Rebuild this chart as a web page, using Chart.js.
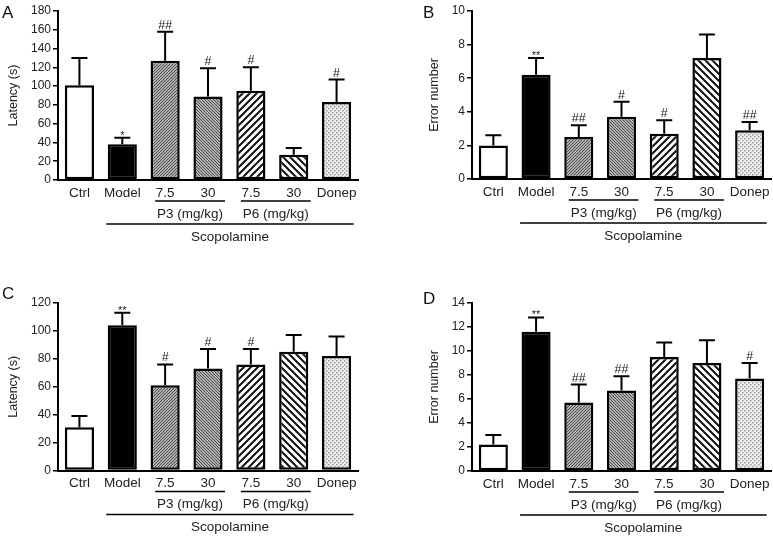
<!DOCTYPE html>
<html><head><meta charset="utf-8">
<script src="https://cdn.jsdelivr.net/npm/chart.js@4"></script>
<style>
body{margin:0;background:#fff;}
#wrap{position:relative;width:773px;height:536px;overflow:hidden;font-family:"Liberation Sans",Arial,sans-serif;}
canvas{position:absolute;}
.lbl{position:absolute;font-size:17px;line-height:18px;color:#111;}
</style></head><body>
<div id="wrap">
<canvas id="cA" width="386" height="268" style="left:0;top:0"></canvas>
<canvas id="cB" width="387" height="268" style="left:386px;top:0"></canvas>
<canvas id="cC" width="386" height="268" style="left:0;top:268px"></canvas>
<canvas id="cD" width="387" height="268" style="left:386px;top:268px"></canvas>
<div class="lbl" style="left:2px;top:4px">A</div>
<div class="lbl" style="left:423px;top:4px">B</div>
<div class="lbl" style="left:2px;top:285px">C</div>
<div class="lbl" style="left:423px;top:290px">D</div>
</div>
<script>
// ---------- data ----------
const categories = ['Ctrl', 'Model', '7.5', '30', '7.5', '30', 'Donep'];
const groupLabels = ['P3 (mg/kg)', 'P6 (mg/kg)'];
const outerLabel = 'Scopolamine';

const latencyA = [101, 38, 127, 89, 95, 27, 83];
const latencyASem = [29, 7, 31, 30, 25, 7, 24];
const marksA = ['', '*', '##', '#', '#', '', '#'];
const ticksA = [0, 20, 40, 60, 80, 100, 120, 140, 160, 180];

const errorsB = [2.0, 6.2, 2.5, 3.7, 2.7, 7.2, 2.9];
const errorsBSem = [0.6, 1.0, 0.7, 0.9, 0.8, 1.4, 0.5];
const marksB = ['', '**', '##', '#', '#', '', '##'];
const ticksB = [0, 2, 4, 6, 8, 10];

const latencyC = [31, 104, 61, 73, 76, 85, 82];
const latencyCSem = [8, 9, 15, 14, 11, 12, 14];
const marksC = ['', '**', '#', '#', '#', '', ''];
const ticksC = [0, 20, 40, 60, 80, 100, 120];

const errorsD = [2.2, 11.6, 5.7, 6.7, 9.5, 9.0, 7.7];
const errorsDSem = [0.8, 1.2, 1.5, 1.2, 1.2, 1.9, 1.3];
const marksD = ['', '**', '##', '##', '', '', '#'];
const ticksD = [0, 2, 4, 6, 8, 10, 12, 14];

// ---------- styling ----------
const FONT = '"Liberation Sans", Arial, sans-serif';

function hatch(size, lw, dir, fg, bg) {
  const c = document.createElement('canvas');
  c.width = c.height = size;
  const g = c.getContext('2d');
  g.fillStyle = bg; g.fillRect(0, 0, size, size);
  g.strokeStyle = fg; g.lineWidth = lw; g.beginPath();
  for (let k = -3; k <= 3; k++) {
    if (dir > 0) { g.moveTo(-size, k * size + size); g.lineTo(2 * size, k * size - 2 * size); }
    else { g.moveTo(-size, k * size - size); g.lineTo(2 * size, k * size + 2 * size); }
  }
  g.stroke();
  return g.createPattern(c, 'repeat');
}
function dots() {
  const c = document.createElement('canvas');
  c.width = c.height = 4;
  const g = c.getContext('2d');
  g.fillStyle = '#eeeeee'; g.fillRect(0, 0, 4, 4);
  g.fillStyle = '#9a9a9a';
  g.fillRect(0, 0, 1.5, 1.5); g.fillRect(2, 2, 1.5, 1.5);
  return g.createPattern(c, 'repeat');
}
const fills = ['#ffffff', '#000000',
  hatch(3, 1.1, 1, '#444', '#dddddd'),
  hatch(3, 1.1, -1, '#444', '#dddddd'),
  hatch(7, 2, 1, '#111', '#ffffff'),
  hatch(7, 2, -1, '#111', '#ffffff'),
  dots()];

const errPlugin = {
  id: 'errbars',
  afterDatasetsDraw(chart) {
    const ctx = chart.ctx, ds = chart.data.datasets[0], meta = chart.getDatasetMeta(0), y = chart.scales.y;
    ctx.save();
    ctx.strokeStyle = '#000'; ctx.lineWidth = 2; ctx.fillStyle = '#222'; ctx.textAlign = 'center'; ctx.textBaseline = 'alphabetic';
    meta.data.forEach((bar, i) => {
      const top = y.getPixelForValue(ds.data[i]);
      const e = y.getPixelForValue(ds.data[i] + ds.errs[i]);
      ctx.beginPath();
      ctx.moveTo(bar.x, top); ctx.lineTo(bar.x, e);
      ctx.moveTo(bar.x - 8, e); ctx.lineTo(bar.x + 8, e);
      ctx.stroke();
      const m = ds.marks[i];
      if (m) {
        if (m[0] === '*') { ctx.font = '11px ' + FONT; ctx.fillText(m, bar.x, e + 1); }
        else { ctx.font = '12.5px ' + FONT; ctx.fillText(m, bar.x, e - 3); }
      }
    });
    ctx.restore();
  }
};

const groupPlugin = {
  id: 'groups',
  afterDraw(chart) {
    const ctx = chart.ctx, x = chart.scales.x, b = chart.chartArea.bottom;
    const px = i => x.getPixelForValue(i);
    ctx.save();
    ctx.strokeStyle = '#000'; ctx.lineWidth = 1.5; ctx.fillStyle = '#222';
    ctx.font = '13.5px ' + FONT; ctx.textAlign = 'center'; ctx.textBaseline = 'middle';
    [[2, 3], [4, 5]].forEach(([a, c], k) => {
      const l = px(a) - 10, r = px(c) + 17;
      ctx.beginPath(); ctx.moveTo(l, b + 21); ctx.lineTo(r, b + 21); ctx.stroke();
      ctx.fillText(groupLabels[k], (l + r) / 2, b + 34);
    });
    const l = px(1) - 16, r = px(6) + 17;
    ctx.beginPath(); ctx.moveTo(l, b + 44); ctx.lineTo(r, b + 44); ctx.stroke();
    ctx.fillText(outerLabel, (l + r) / 2, b + 57);
    ctx.restore();
  }
};

function makeChart(id, values, sem, marks, ticks, yTitle, area) {
  const canvas = document.getElementById(id);
  const W = canvas.width, H = canvas.height;
  return new Chart(canvas, {
    type: 'bar',
    data: {
      labels: categories,
      datasets: [{
        data: values, errs: sem, marks: marks,
        backgroundColor: fills, borderColor: '#000', borderWidth: 2.5, borderSkipped: false,
        barPercentage: 0.68, categoryPercentage: 1
      }]
    },
    options: {
      responsive: false, animation: false, devicePixelRatio: 1,
      layout: { padding: { left: 0, right: W - area.right, top: area.top, bottom: 0 } },
      plugins: { legend: { display: false }, tooltip: { enabled: false } },
      scales: {
        x: {
          grid: { display: false, drawTicks: false },
          border: { display: true, color: '#000', width: 2 },
          ticks: { color: '#222', font: { size: 13.5, family: FONT }, padding: 5, maxRotation: 0, autoSkip: false },
          afterFit(s) { s.height = H - area.bottom; s.paddingLeft = 0; s.paddingRight = 0; }
        },
        y: {
          min: ticks[0], max: ticks[ticks.length - 1],
          ticks: { stepSize: ticks[1] - ticks[0], color: '#222', font: { size: 12, family: FONT }, padding: 2 },
          grid: { drawOnChartArea: false, drawTicks: true, tickLength: 5, color: '#000', lineWidth: 1.5 },
          border: { display: true, color: '#000', width: 2 },
          title: { display: true, text: yTitle, color: '#222', font: { size: 12.5, family: FONT }, padding: { top: area.titlePad, bottom: 0 } },
          afterFit(s) { s.width = area.left; s.paddingTop = 0; s.paddingBottom = 0; }
        }
      }
    },
    plugins: [errPlugin, groupPlugin]
  });
}

makeChart('cA', latencyA, latencyASem, marksA, ticksA, 'Latency (s)', { left: 58, right: 358, top: 11, bottom: 180, titlePad: 6 });
makeChart('cB', errorsB, errorsBSem, marksB, ticksB, 'Error number', { left: 86, right: 385, top: 11, bottom: 179, titlePad: 41 });
makeChart('cC', latencyC, latencyCSem, marksC, ticksC, 'Latency (s)', { left: 58, right: 358, top: 35, bottom: 202.5, titlePad: 6 });
makeChart('cD', errorsD, errorsDSem, marksD, ticksD, 'Error number', { left: 86, right: 385, top: 35, bottom: 203, titlePad: 41 });
</script>
</body></html>
